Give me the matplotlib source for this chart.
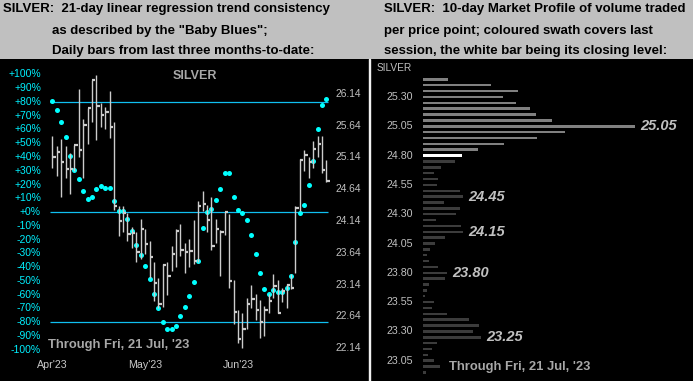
import matplotlib
matplotlib.use('Agg')
import matplotlib.pyplot as plt
import numpy as np

plt.rcParams['font.family'] = ['Liberation Sans', 'DejaVu Sans']

# ---- left chart: daily bars (price) and "Baby Blues" (% consistency) ----
highs = [25.48, 25.32, 25.43, 25.32, 25.21, 25.34, 26.21, 25.75, 25.92, 26.35,
         26.43, 26.00, 25.93, 26.19, 25.69, 24.38, 24.38, 24.27, 24.04, 23.96,
         24.17, 24.01, 23.82, 23.50, 23.24, 23.46, 23.50, 23.74, 24.02, 24.10,
         23.79, 23.86, 24.16, 24.45, 24.61, 24.39, 24.51, 24.17, 24.00, 24.28,
         24.25, 23.21, 22.74, 22.69, 22.93, 23.13, 22.99, 22.90, 22.81, 23.00,
         23.31, 23.22, 23.09, 23.15, 23.30, 24.37, 25.11, 25.26, 25.15, 25.40,
         25.47, 25.48, 25.10]
lows = [24.98, 24.84, 24.52, 24.82, 24.57, 24.92, 25.14, 24.82, 25.35, 25.70,
        25.41, 25.62, 25.58, 25.45, 24.32, 23.91, 23.97, 23.82, 23.71, 23.49,
        23.54, 23.62, 23.24, 22.88, 22.78, 22.79, 22.98, 23.35, 23.41, 23.59,
        23.32, 23.41, 23.46, 23.50, 24.29, 23.96, 23.68, 23.79, 23.27, 23.92,
        23.09, 22.52, 22.22, 22.14, 22.45, 22.77, 22.58, 22.30, 22.34, 22.69,
        22.93, 22.69, 22.86, 22.77, 23.07, 23.32, 24.29, 24.92, 24.82, 24.98,
        25.15, 24.90, 24.76]
closes = [25.15, 25.23, 25.06, 24.95, 24.96, 25.34, 25.25, 25.65, 25.91, 26.35,
          25.94, 25.80, 25.85, 25.62, 24.38, 24.14, 24.27, 23.93, 23.95, 23.66,
          24.02, 23.78, 23.58, 23.16, 22.84, 23.45, 23.28, 23.62, 23.99, 23.69,
          23.65, 23.67, 23.51, 24.37, 24.40, 24.15, 23.74, 24.01, 23.97, 24.28,
          23.20, 22.71, 22.29, 22.45, 22.84, 22.91, 22.74, 22.56, 22.74, 22.89,
          23.12, 22.70, 23.04, 23.13, 23.08, 24.34, 25.10, 25.18, 25.06, 25.27,
          25.35, 24.94, 24.77]
blues = [81.0, 74.4, 65.7, 54.8, 41.0, 30.5, 24.2, 15.5, 9.7, 11.2,
         17.0, 19.2, 17.7, 17.7, 8.2, 1.0, 0.7, -5.1, -13.6, -24.0,
         -31.3, -39.3, -48.5, -59.6, -69.6, -79.8, -84.8, -84.8, -82.7, -75.4,
         -68.9, -60.9, -50.7, -35.6, -11.4, 0.2, 2.2, 8.7, 16.7, 28.6,
         28.6, 11.2, 1.5, -0.5, -5.8, -16.7, -30.5, -44.1, -56.0, -59.6,
         -56.7, -57.9, -57.9, -55.0, -46.3, -21.6, -0.5, 5.1, 19.6, 37.1,
         60.4, 77.8, 82.2]
month_labels = ["Apr'23", "May'23", "Jun'23"]
month_pos = [0, 21, 42]
pct_ticks = [100, 90, 80, 70, 60, 50, 40, 30, 20, 10, 0,
             -10, -20, -30, -40, -50, -60, -70, -80, -90, -100]
price_ticks = [26.14, 25.64, 25.14, 24.64, 24.14, 23.64, 23.14, 22.64, 22.14]
ref_lines = [80, 0, -80]

# ---- right chart: 10-day market profile ----
prof_prices = [25.45, 25.40, 25.35, 25.30, 25.25, 25.20, 25.15, 25.10, 25.05, 25.00,
               24.95, 24.90, 24.85, 24.80, 24.75, 24.70, 24.65, 24.60, 24.55, 24.50,
               24.45, 24.40, 24.35, 24.30, 24.25, 24.20, 24.15, 24.10, 24.05, 24.00,
               23.95, 23.90, 23.85, 23.80, 23.75, 23.70, 23.65, 23.60, 23.55, 23.50,
               23.45, 23.40, 23.35, 23.30, 23.25, 23.20, 23.15, 23.10, 23.05, 23.00,
               22.95]
prof_vol = [25, 68, 95, 80, 93, 107, 113, 129, 212, 142,
            114, 81, 55, 39, 32, 18, 11, 15, 14, 37,
            40, 21, 37, 33, 13, 38, 40, 22, 12, 7,
            4, 6, 15, 24, 22, 6, 4, 2, 11, 9,
            24, 46, 56, 50, 58, 14, 9, 5, 11, 17,
            3]
last_close = 24.80
swath_low, swath_high = 24.85, 25.45
prof_labels = [25.05, 24.45, 24.15, 23.80, 23.25]
prof_ticks = [25.30, 25.05, 24.80, 24.55, 24.30, 24.05, 23.80, 23.55, 23.30, 23.05]

W, H = 693, 381
fig = plt.figure(figsize=(W / 100, H / 100), dpi=100, facecolor='#c0c0c0')


def rect(x0, y0, x1, y1):
    return [x0 / W, 1 - y1 / H, (x1 - x0) / W, (y1 - y0) / H]


def ftext(x, y, s, **kw):
    fig.text(x / W, 1 - y / H, s, **kw)


def clean(a):
    a.set_xticks([])
    a.set_yticks([])
    for sp in a.spines.values():
        sp.set_visible(False)


# header text
hdr = dict(fontsize=9.5, fontweight='bold', color='black', va='baseline')
ftext(3.3, 12.3, 'SILVER:  21-day linear regression trend consistency', **hdr)
ftext(51.7, 34.0, 'as described by the "Baby Blues";', **hdr)
ftext(51.7, 54.0, 'Daily bars from last three months-to-date:', **hdr)
ftext(384.3, 12.3, 'SILVER:  10-day Market Profile of volume traded', **hdr)
ftext(384.3, 34.0, 'per price point; coloured swath covers last', **hdr)
ftext(384.3, 54.0, 'session, the white bar being its closing level:', **hdr)

# left panel
ax = fig.add_axes(rect(0, 59, 369, 381))
ax.set_facecolor('black')
ax.set_xlim(-11.83, 71.65)
ax.set_ylim(-122.9, 111.27)
clean(ax)
ax2 = ax.twinx()
ax2.set_ylim(21.626, 26.685)
clean(ax2)

x = np.arange(len(closes))
ax.hlines(ref_lines, -0.5, 62.4, color='#10bff0', lw=0.9, zorder=1)
ax2.vlines(x, lows, highs, color='#cccccc', lw=1.0, zorder=2)
ax2.hlines(closes, x, x + 0.75, color='#cccccc', lw=1.6, zorder=2)
ax.scatter(x, blues, s=13, c='#00ffff', linewidths=0, zorder=5)

for p in pct_ticks:
    lab = ('+%d%%' % p) if p >= 0 else ('%d%%' % p)
    ax.text(41 / 369, p, lab, transform=ax.get_yaxis_transform(), ha='right',
            va='center', color='#00f0ff', fontsize=7.5)
for p in price_ticks:
    ax2.text(336 / 369, p, '%.2f' % p, transform=ax2.get_yaxis_transform(),
             ha='left', va='center', color='#c0c0c0', fontsize=7.4)
for lab, i in zip(month_labels, month_pos):
    ax.text(i, (381 - 365) / 322, lab, transform=ax.get_xaxis_transform(),
            ha='center', va='center', color='#c8c8c8', fontsize=7.7)

ftext(195, 76, 'SILVER', ha='center', va='center', color='#a8a8a8',
      fontsize=9, fontweight='bold')
ftext(48, 345, "Through Fri, 21 Jul, '23", ha='left', va='center',
      color='#a8a8a8', fontsize=9.4, fontweight='bold')

# separator
fig.add_artist(plt.Rectangle((369 / W, 0), 1.2 / W, (381 - 59) / H,
                             transform=fig.transFigure, color='#f0f0f0'))

# right panel
axr = fig.add_axes(rect(370.2, 59, 693, 381))
axr.set_facecolor('black')
axr.set_xlim(-52.8, 270)
axr.set_ylim(22.877, 25.624)
clean(axr)

for p, v in zip(prof_prices, prof_vol):
    if abs(p - last_close) < 1e-6:
        col, h = 'white', 0.028
    elif swath_low - 1e-6 <= p <= swath_high + 1e-6:
        col, h = '#808080', 0.021
    else:
        col, h = '#3c3c3c', 0.021
    axr.barh(p, v, height=h, left=0, color=col, linewidth=0)
    if any(abs(p - q) < 1e-6 for q in prof_labels):
        axr.text(v + 5, p, '%.2f' % p, ha='left', va='center', color='#c0c0c0',
                 fontsize=10.5, fontweight='bold', fontstyle='italic')

for p in prof_ticks:
    axr.text(-10, p, '%.2f' % p, ha='right', va='center', color='#c0c0c0',
             fontsize=7.7)

ftext(377, 68, 'SILVER', ha='left', va='center', color='#c0c0c0', fontsize=7.3)
ftext(449, 367, "Through Fri, 21 Jul, '23", ha='left', va='center',
      color='#a8a8a8', fontsize=9.4, fontweight='bold')

fig.savefig('out.png', dpi=100, facecolor=fig.get_facecolor())
